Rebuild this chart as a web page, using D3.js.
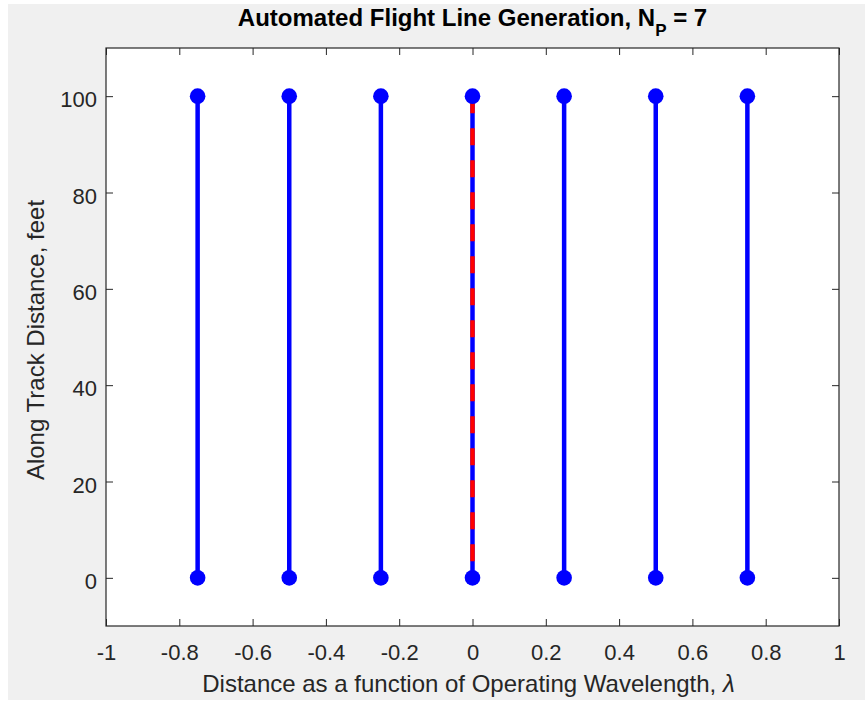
<!DOCTYPE html>
<html>
<head>
<meta charset="utf-8">
<script src="https://cdn.jsdelivr.net/npm/d3@7"></script>
<style>
  body { margin: 0; background: #fff; }
  svg text { font-family: Arial, "Liberation Sans", sans-serif; }
</style>
</head>
<body>
<div id="chart"></div>
<script>
// Flight line positions (in wavelengths) and along-track extent
const lineX = [-0.75, -0.5, -0.25, 0, 0.25, 0.5, 0.75];
const lineStart = 0;
const lineEnd = 100;
// Reference (centre) line
const centerX = 0;

const xTicks = [-1, -0.8, -0.6, -0.4, -0.2, 0, 0.2, 0.4, 0.6, 0.8, 1];
const yTicks = [0, 20, 40, 60, 80, 100];
const xDomain = [-1, 1];
const yDomain = [-10, 110];

const W = 865, H = 703;
const box = { left: 106, right: 839, top: 48, bottom: 626 };
const axisColor = "#262626";

const svg = d3.select("#chart").append("svg")
    .attr("width", W)
    .attr("height", H);

// Figure background
svg.append("rect")
    .attr("x", 8).attr("y", 4)
    .attr("width", W - 8).attr("height", 696)
    .attr("fill", "#f0f0f0");

const x = d3.scaleLinear().domain(xDomain).range([box.left, box.right]);
const y = d3.scaleLinear().domain(yDomain).range([box.bottom, box.top]);

// Axes area
svg.append("rect")
    .attr("x", box.left).attr("y", box.top)
    .attr("width", box.right - box.left).attr("height", box.bottom - box.top)
    .attr("fill", "#fff");

const fmt = d => String(d);
const tickLen = 7;

const styleAxis = g => {
    g.select(".domain").remove();
    g.selectAll("line").attr("stroke", axisColor);
    g.selectAll("text").attr("fill", axisColor).style("font-size", "22px");
};

svg.append("g")
    .attr("transform", `translate(0,${box.bottom})`)
    .call(d3.axisBottom(x).tickValues(xTicks).tickFormat(fmt).tickSizeInner(-tickLen).tickSizeOuter(0).tickPadding(18))
    .call(styleAxis);
svg.append("g")
    .attr("transform", `translate(0,${box.top})`)
    .call(d3.axisTop(x).tickValues(xTicks).tickFormat("").tickSizeInner(-tickLen).tickSizeOuter(0))
    .call(styleAxis);
svg.append("g")
    .attr("transform", `translate(${box.left},0)`)
    .call(d3.axisLeft(y).tickValues(yTicks).tickFormat(fmt).tickSizeInner(-tickLen).tickSizeOuter(0).tickPadding(9))
    .call(styleAxis)
    .call(g => g.selectAll("text").attr("dy", "0.48em"));
svg.append("g")
    .attr("transform", `translate(${box.right},0)`)
    .call(d3.axisRight(y).tickValues(yTicks).tickFormat("").tickSizeInner(-tickLen).tickSizeOuter(0))
    .call(styleAxis);

// Box outline
svg.append("rect")
    .attr("x", box.left).attr("y", box.top)
    .attr("width", box.right - box.left).attr("height", box.bottom - box.top)
    .attr("fill", "none")
    .attr("stroke", axisColor)
    .attr("stroke-width", 1.2);

// Flight lines
const plot = svg.append("g");
plot.selectAll(".flight")
    .data(lineX)
    .enter().append("line")
    .attr("class", "flight")
    .attr("x1", d => x(d)).attr("x2", d => x(d))
    .attr("y1", y(lineStart)).attr("y2", y(lineEnd))
    .attr("stroke", "#0000ff")
    .attr("stroke-width", 4.5);

// Centre reference line, red dashed
plot.append("line")
    .attr("x1", x(centerX)).attr("x2", x(centerX))
    .attr("y1", y(lineEnd)).attr("y2", y(lineStart))
    .attr("stroke", "#ff0000")
    .attr("stroke-width", 4.5)
    .attr("stroke-dasharray", "17,15");

// End-point markers
const ends = [];
lineX.forEach(d => { ends.push([d, lineStart]); ends.push([d, lineEnd]); });
plot.selectAll(".marker")
    .data(ends)
    .enter().append("circle")
    .attr("class", "marker")
    .attr("cx", d => x(d[0]))
    .attr("cy", d => y(d[1]))
    .attr("r", 7.8)
    .attr("fill", "#0000ff");

// Title
const title = svg.append("text")
    .attr("x", (box.left + box.right) / 2)
    .attr("y", 26)
    .attr("text-anchor", "middle")
    .style("font-size", "24px")
    .style("font-weight", "bold")
    .attr("fill", "#000");
title.append("tspan").text("Automated Flight Line Generation, N");
title.append("tspan").attr("dy", 10).style("font-size", "17px").text("P");
title.append("tspan").attr("dy", -10).text(" = 7");

// Axis labels
const xl = svg.append("text")
    .attr("x", (box.left + box.right) / 2 - 4)
    .attr("y", 692)
    .attr("text-anchor", "middle")
    .style("font-size", "24px")
    .attr("fill", axisColor);
xl.append("tspan").text("Distance as a function of Operating Wavelength, ");
xl.append("tspan").style("font-style", "italic").text("\u03bb");

svg.append("text")
    .attr("transform", `translate(44,${(box.top + box.bottom) / 2 + 3}) rotate(-90)`)
    .attr("text-anchor", "middle")
    .style("font-size", "24px")
    .attr("fill", axisColor)
    .text("Along Track Distance, feet");
</script>
</body>
</html>
